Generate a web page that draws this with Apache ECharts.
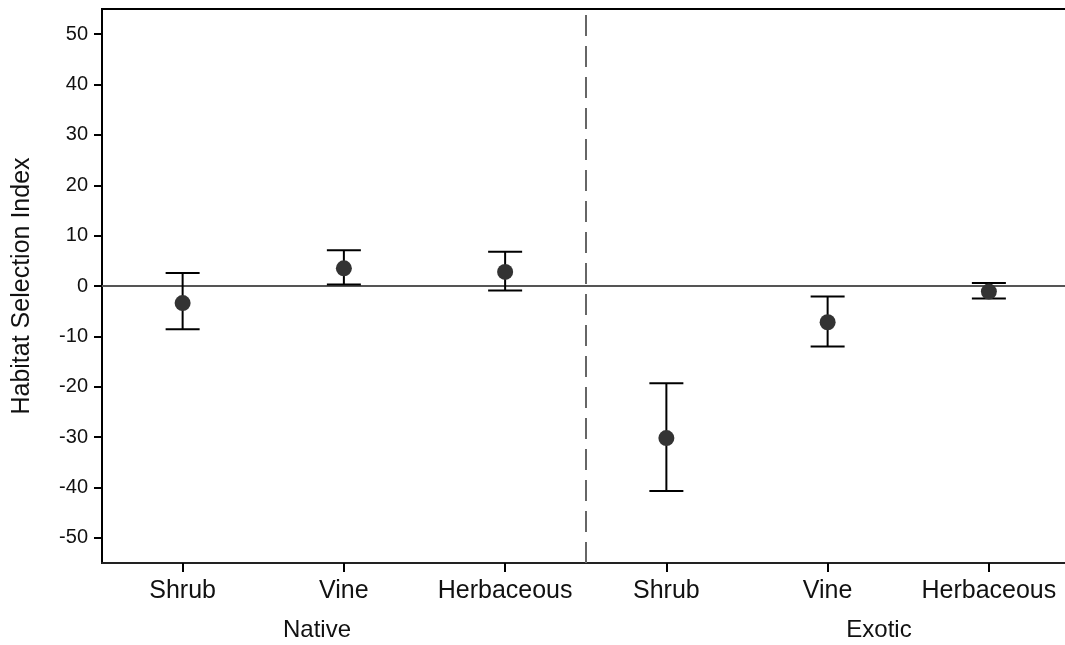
<!DOCTYPE html>
<html>
<head>
<meta charset="utf-8">
<script src="https://cdn.jsdelivr.net/npm/echarts@6/dist/echarts.min.js"></script>
<style>
  html, body { margin: 0; padding: 0; background: #fff; }
  #chart { width: 1065px; height: 645px; }
</style>
</head>
<body>
<div id="chart"></div>
<script>
// Plant types, grouped as Native (first three) and Exotic (last three)
const categories = ['Shrub', 'Vine', 'Herbaceous', 'Shrub ', 'Vine ', 'Herbaceous '];
const groupNames = ['Native', 'Exotic'];
// Mean habitat selection index and the ends of each error bar
const means = [-3.4, 3.5, 2.8, -30.2, -7.2, -1.1];
const upper = [2.6, 7.1, 6.8, -19.3, -2.1, 0.6];
const lower = [-8.6, 0.3, -0.9, -40.7, -12.0, -2.5];
// Y axis tick values
const yTicks = [-50, -40, -30, -20, -10, 0, 10, 20, 30, 40, 50];

const FONT = 'Liberation Sans, Arial, sans-serif';
const chart = echarts.init(document.getElementById('chart'));

chart.setOption({
  animation: false,
  backgroundColor: '#fff',
  grid: {
    left: 102, top: 9, width: 967.5, height: 554,
    outerBoundsMode: 'none', containLabel: false,
    show: true, borderColor: '#000', borderWidth: 2, backgroundColor: 'transparent'
  },
  xAxis: [
    {
      type: 'category',
      data: categories,
      boundaryGap: true,
      axisLine: { show: true, onZero: false, lineStyle: { color: '#222', width: 2 } },
      axisTick: { show: true, inside: false, alignWithLabel: true, interval: 0, length: 9, lineStyle: { color: '#000', width: 2 } },
      axisLabel: {
        interval: 0, margin: 16, fontSize: 25, color: '#111', fontFamily: FONT,
        formatter: v => v.trim()
      },
      splitLine: { show: false }
    },
    {
      // continuous helper axis for the group divider
      type: 'value', min: -0.5, max: 5.5, show: false, position: 'bottom'
    }
  ],
  yAxis: {
    type: 'value',
    min: -55, max: 55,
    name: 'Habitat Selection Index',
    nameLocation: 'middle',
    nameRotate: 90,
    nameGap: 67,
    nameTextStyle: { fontSize: 25, color: '#111', fontFamily: FONT },
    axisLine: { show: true, onZero: false, lineStyle: { color: '#000', width: 2 } },
    axisTick: { show: true, length: 8, customValues: yTicks, lineStyle: { color: '#000', width: 2 } },
    axisLabel: { margin: 14, fontSize: 20, color: '#111', fontFamily: FONT, customValues: yTicks },
    splitLine: { show: false }
  },
  series: [
    {
      // zero reference line
      type: 'line', data: [], xAxisIndex: 0,
      markLine: {
        silent: true, symbol: 'none', label: { show: false },
        lineStyle: { color: '#555', width: 2, type: 'solid' },
        data: [{ yAxis: 0 }]
      }
    },
    {
      // divider between Native and Exotic groups
      type: 'line', data: [], xAxisIndex: 1,
      markLine: {
        silent: true, symbol: 'none', label: { show: false },
        lineStyle: { color: '#666', width: 2, type: [21, 10] },
        data: [{ xAxis: 2.5 }]
      }
    },
    {
      type: 'custom',
      xAxisIndex: 0,
      data: categories.map((c, i) => [i, upper[i], lower[i]]),
      encode: { x: 0, y: [1, 2] },
      z: 5,
      renderItem: function (params, api) {
        const i = api.value(0);
        const hi = api.coord([i, api.value(1)]);
        const lo = api.coord([i, api.value(2)]);
        const half = 17;
        const st = { stroke: '#000', lineWidth: 2 };
        return {
          type: 'group',
          children: [
            { type: 'line', shape: { x1: hi[0], y1: hi[1], x2: lo[0], y2: lo[1] }, style: st },
            { type: 'line', shape: { x1: hi[0] - half, y1: hi[1], x2: hi[0] + half, y2: hi[1] }, style: st },
            { type: 'line', shape: { x1: lo[0] - half, y1: lo[1], x2: lo[0] + half, y2: lo[1] }, style: st }
          ]
        };
      }
    },
    {
      type: 'scatter',
      xAxisIndex: 0,
      data: means,
      symbol: 'circle',
      symbolSize: 16,
      itemStyle: { color: '#333', opacity: 1 },
      z: 10
    }
  ],
  graphic: [
    {
      type: 'text', x: 317, y: 630,
      style: { text: groupNames[0], fontSize: 24, fill: '#111', fontFamily: FONT, align: 'center', verticalAlign: 'middle' }
    },
    {
      type: 'text', x: 879, y: 630,
      style: { text: groupNames[1], fontSize: 24, fill: '#111', fontFamily: FONT, align: 'center', verticalAlign: 'middle' }
    }
  ]
});
</script>
</body>
</html>
